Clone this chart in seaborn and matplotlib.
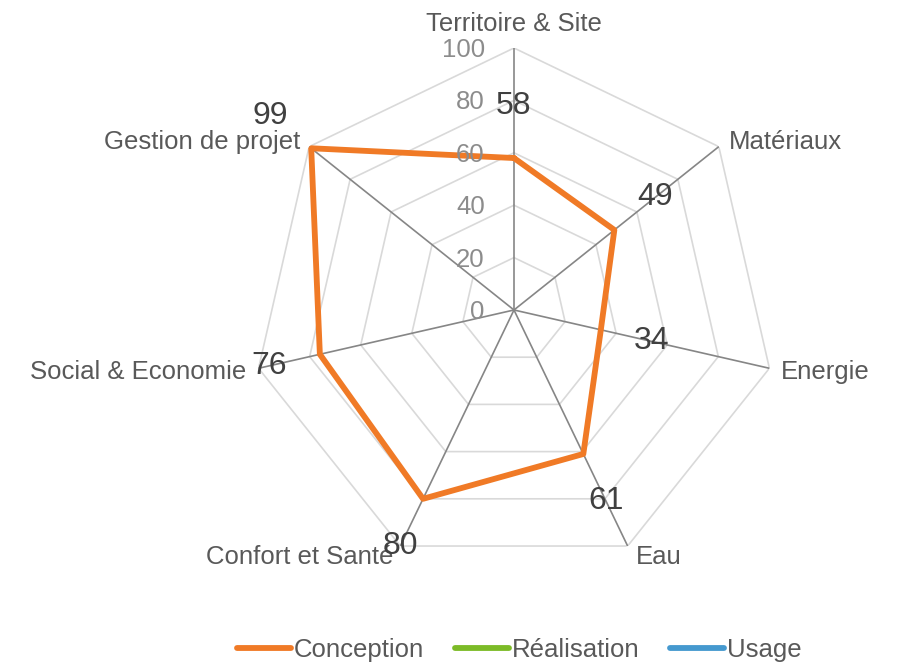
import numpy as np
import pandas as pd
import seaborn as sns
import matplotlib.pyplot as plt
from matplotlib.lines import Line2D

# data
categories = ["Territoire & Site", "Matériaux", "Energie", "Eau",
              "Confort et Santé", "Social & Economie", "Gestion de projet"]
conception = [58, 49, 34, 61, 80, 76, 99]
series_names = ["Conception", "Réalisation", "Usage"]
series_colors = ["#F07A26", "#7CBB27", "#4599CF"]
ring_ticks = [0, 20, 40, 60, 80, 100]

sns.set_theme(style="white")
plt.rcParams['font.family'] = ['Liberation Sans', 'DejaVu Sans']

n = len(categories)
angles = np.linspace(0, 2 * np.pi, n, endpoint=False)

df = pd.DataFrame({"angle": np.append(angles, angles[0]),
                   "value": conception + conception[:1]})

fig = plt.figure(figsize=(8.97, 6.63), dpi=100)
ax = fig.add_axes([0.2809, 0.1373, 0.5842, 0.7903], projection="polar")
ax.set_theta_zero_location("N")
ax.set_theta_direction(-1)
ax.set_ylim(0, 100)
ax.grid(False)
ax.spines["polar"].set_visible(False)
ax.set_xticks([])
ax.set_yticks([])

# heptagon grid rings
closed = np.append(angles, angles[0])
for r in ring_ticks[1:]:
    ax.plot(closed, [r] * len(closed), color="#D9D9D9", lw=1.2, zorder=1)
# spokes
for a in angles:
    ax.plot([a, a], [0, 100], color="#868686", lw=1.2, zorder=2)

sns.lineplot(data=df, x="angle", y="value", sort=False, estimator=None,
             color=series_colors[0], lw=4.2, ax=ax, zorder=3)
ax.set_xlabel("")
ax.set_ylabel("")

# ring tick labels along top spoke
for r in ring_ticks:
    ax.annotate(str(r), (0, r), xytext=(-21, -1.5), textcoords="offset points",
                ha="right", va="center", fontsize=18.5, color="#8C8C8C",
                annotation_clip=False)

# category labels
offsets = [(0, 17.5), (7, 3.5), (8.6, -2.9), (5.8, -8), (-5, -8), (-8.6, -2.9), (-6.5, 3.5)]
for a, lab, off in zip(angles, categories, offsets):
    if abs(np.sin(a)) < 1e-6:
        ha = "center"
    elif np.sin(a) > 0:
        ha = "left"
    else:
        ha = "right"
    ax.annotate(lab, (a, 100), xytext=off, textcoords="offset points",
                ha=ha, va="center", fontsize=18.5, color="#595959",
                annotation_clip=False)

# data labels
for a, v in zip(angles, conception):
    ax.text(a, v + 20, str(v), ha="center", va="center", fontsize=23,
            color="#404040", zorder=5)

handles = [Line2D([], [], color=c, lw=4.2, solid_capstyle="round") for c in series_colors]
fig.legend(handles, series_names, loc="center", bbox_to_anchor=(0.579, 0.020),
           ncol=3, frameon=False, fontsize=18.5, handlelength=2.1,
           handletextpad=0.1, columnspacing=1.2, labelcolor="#595959")

fig.savefig("out.png", dpi=100)
